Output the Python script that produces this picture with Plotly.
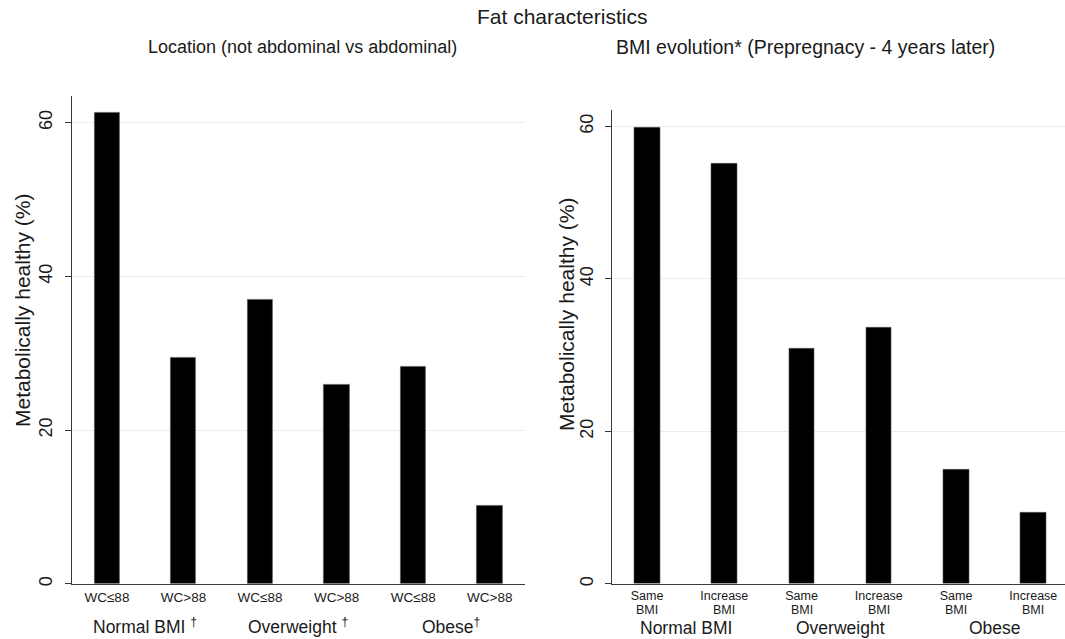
import plotly.graph_objects as go

# ---------------- data ----------------
left_categories = ["WC≤88", "WC>88", "WC≤88", "WC>88", "WC≤88", "WC>88"]
left_values = [61.3, 29.4, 36.9, 25.9, 28.3, 10.2]
left_groups = ["Normal BMI <sup>†</sup>", "Overweight <sup>†</sup>", "Obese<sup>†</sup>"]

right_categories = ["Same BMI", "Increase BMI", "Same BMI", "Increase BMI", "Same BMI", "Increase BMI"]
right_values = [59.9, 55.1, 30.9, 33.6, 15.0, 9.3]
right_groups = ["Normal BMI", "Overweight", "Obese"]

y_ticks = [0, 20, 40, 60]

main_title = "Fat characteristics"
left_title = "Location (not abdominal vs abdominal)"
right_title = "BMI evolution* (Prepregnacy - 4 years later)"
y_title = "Metabolically healthy (%)"

# ---------------- layout helpers ----------------
W, H = 1065, 639
FONT = "Liberation Sans, Arial, sans-serif"
TXT = "#1a1a1a"


def px(x):
    return x / W


def py(y):
    return (H - y) / H


fig = go.Figure()

left_x = list(range(len(left_values)))
right_x = list(range(len(right_values)))

bar_style = dict(color="black", line=dict(color="#555555", width=0.6))
fig.add_trace(go.Bar(x=left_x, y=left_values, xaxis="x", yaxis="y",
                     marker=bar_style, width=0.33, showlegend=False, hoverinfo="y"))
fig.add_trace(go.Bar(x=right_x, y=right_values, xaxis="x2", yaxis="y2",
                     marker=bar_style, width=0.33, showlegend=False, hoverinfo="y"))

axis_common = dict(showgrid=False, zeroline=False, showline=True, linecolor="#3a3a3a",
                   linewidth=1.2, ticks="", fixedrange=True)
yaxis_common = dict(showgrid=True, gridcolor="#ececec", gridwidth=1, zeroline=False,
                    showline=True, linecolor="#3a3a3a", linewidth=1.2, ticks="outside",
                    ticklen=6, tickcolor="#3a3a3a", tickvals=y_ticks, tickangle=-90,
                    ticklabelstandoff=5,
                    tickfont=dict(family=FONT, size=18, color=TXT), fixedrange=True)

fig.update_layout(
    width=W, height=H,
    margin=dict(l=0, r=0, t=0, b=0),
    paper_bgcolor="white", plot_bgcolor="white",
    bargap=0,
    xaxis=dict(domain=[px(71.7), px(525)], range=[-0.46, 5.46], anchor="y",
               tickvals=left_x, ticktext=left_categories, ticklabelstandoff=1,
               tickfont=dict(family=FONT, size=13.5, color=TXT), **axis_common),
    yaxis=dict(domain=[py(585.7), py(96)], range=[0, 63.5], anchor="x", **yaxis_common),
    xaxis2=dict(domain=[px(612.3), 1.0], range=[-0.45, 5.41], anchor="y2",
                tickvals=right_x, ticktext=[c.split(" ")[0] for c in right_categories],
                ticklabelstandoff=0,
                tickfont=dict(family=FONT, size=12.5, color=TXT), **axis_common),
    yaxis2=dict(domain=[py(585.7), py(110)], range=[0, 62.2], anchor="x2", **yaxis_common),
)


def label(text, x, y, size, xref="paper", angle=0):
    return dict(text=text, x=x, y=y, xref=xref, yref="paper", textangle=angle,
                xanchor="center", yanchor="middle", showarrow=False,
                font=dict(family=FONT, size=size, color=TXT))


annotations = [
    label(main_title, px(562), py(17), 21),
    label(left_title, px(302), py(47), 18),
    label(right_title, px(805), py(47), 19.5),
    label(y_title, px(22), py(312), 21, angle=-90),
    label(y_title, px(566), py(316), 21, angle=-90),
]

# group labels under each pair of bars
for i, g in enumerate(left_groups):
    mid = (left_x[2 * i] + left_x[2 * i + 1]) / 2
    annotations.append(label(g, mid, py(628), 17.5, xref="x"))
for i, g in enumerate(right_groups):
    mid = (right_x[2 * i] + right_x[2 * i + 1]) / 2
    annotations.append(label(g, mid, py(630), 17.5, xref="x2"))
# second line of the right-panel category labels
for xi, c in zip(right_x, right_categories):
    annotations.append(label(c.split(" ", 1)[1], xi, py(611.5), 12.5, xref="x2"))

fig.update_layout(annotations=annotations)

fig.write_html("out.html", config={"displayModeBar": False},
               post_script="document.body.style.margin='0px';")
